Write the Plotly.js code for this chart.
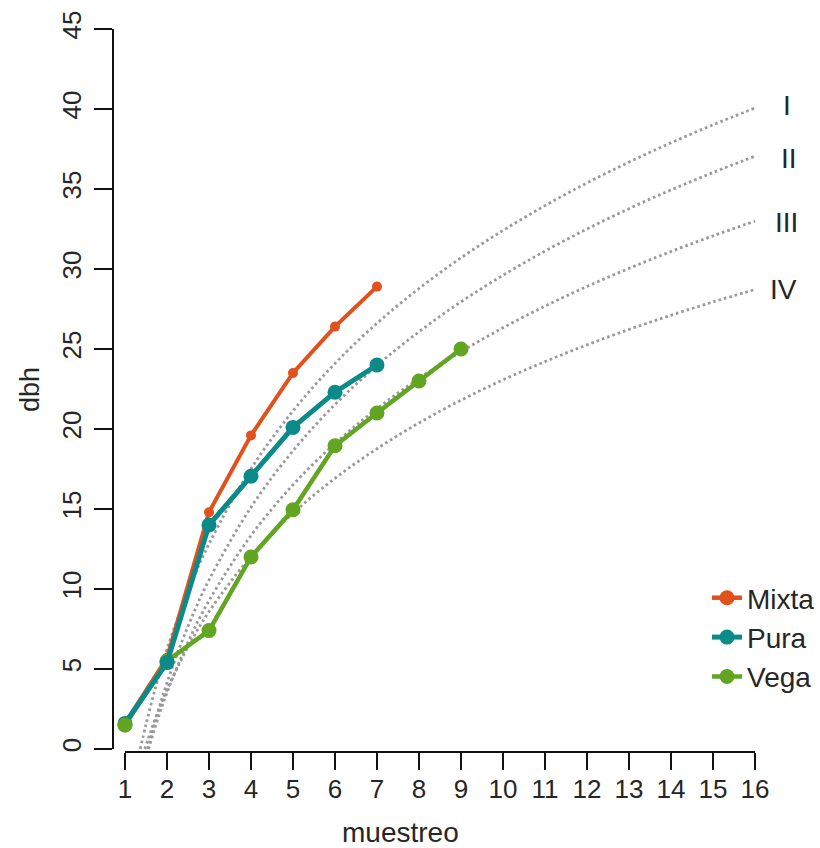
<!DOCTYPE html>
<html>
<head>
<meta charset="utf-8">
<script src="https://cdn.plot.ly/plotly-3.0.1.min.js"></script>
<style>html,body{margin:0;padding:0;background:#fff;}#chart{width:820px;height:848px;}</style>
</head>
<body>
<div id="chart"></div>
<script>
// ---- data ----
var xTicks = [1,2,3,4,5,6,7,8,9,10,11,12,13,14,15,16];
var yTicks = [0,5,10,15,20,25,30,35,40,45];

var mixtaX = [1,2,3,4,5,6,7];
var mixtaY = [1.6,5.7,14.8,19.6,23.5,26.4,28.9];
var puraX  = [1,2,3,4,5,6,7];
var puraY  = [1.6,5.4,14.0,17.05,20.1,22.3,24.0];
var vegaX  = [1,2,3,4,5,6,7,8,9];
var vegaY  = [1.5,5.5,7.4,12.0,14.95,18.95,21.0,23.0,25.0];

// site-index reference curves (dotted)
var curveNames = ["I","II","III","IV"];
var curveLabelY = [40.25,36.9,32.9,28.7];
var curveIx = [1.364,1.5,1.75,2,2.5,3,4,5,6,7,8,9,10,11,12,13,14,15,16];
var curveIy = [0,1.55,4.05,6.23,9.86,12.82,17.51,21.13,24.10,26.61,28.78,30.70,32.41,33.96,35.38,36.68,37.89,39.01,40.06];
var curveIIx = [1.54,1.75,2,2.5,3,4,5,6,7,8,9,10,11,12,13,14,15,16];
var curveIIy = [0,2.02,4.14,7.67,10.56,15.11,18.64,21.53,23.97,26.08,27.95,29.61,31.12,32.50,33.77,34.94,36.03,37.05];
var curveIIIx = [1.56,1.75,2,2.5,3,4,5,6,7,8,9,10,11,12,13,14,15,16];
var curveIIIy = [0,1.63,3.52,6.68,9.27,13.34,16.51,19.09,21.27,23.16,24.83,26.33,27.68,28.91,30.04,31.09,32.07,32.99];
var curveIVx = [1.47,1.75,2,2.5,3,4,5,6,7,8,9,10,11,12,13,14,15,16];
var curveIVy = [0,2.10,3.70,6.39,8.58,12.04,14.73,16.92,18.77,20.38,21.80,23.07,24.21,25.26,26.22,27.11,27.94,28.72];

// ---- styling ----
var FONT = "Liberation Sans, Arial, Helvetica, sans-serif";
var TXT = "#262626";
var cMixta = "#E0511C", cPura = "#0B8A8A", cVega = "#62A523";
var dotCol = "#999999";

var curvesX = [curveIx, curveIIx, curveIIIx, curveIVx];
var curvesY = [curveIy, curveIIy, curveIIIy, curveIVy];

var traces = [];
for (var i = 0; i < 4; i++) {
  traces.push({
    x: curvesX[i], y: curvesY[i], type: "scatter", mode: "lines",
    line: {color: dotCol, width: 2.8, dash: "2.6px,3px", shape: "spline", smoothing: 1},
    showlegend: false, hoverinfo: "skip"
  });
}
traces.push({x: mixtaX, y: mixtaY, name: "Mixta", type: "scatter", mode: "lines+markers",
  line: {color: cMixta, width: 4}, marker: {color: cMixta, size: 10}, showlegend: false});
traces.push({x: vegaX, y: vegaY, name: "Vega", type: "scatter", mode: "lines+markers",
  line: {color: cVega, width: 4.5}, marker: {color: cVega, size: 15}, legendgroup: "c", legendrank: 3});
traces.push({x: puraX, y: puraY, name: "Pura", type: "scatter", mode: "lines+markers",
  line: {color: cPura, width: 5}, marker: {color: cPura, size: 15}, legendgroup: "b", legendrank: 2});
traces.push({x: vegaX.slice(0,1), y: vegaY.slice(0,1), type: "scatter", mode: "markers",
  marker: {color: cVega, size: 15}, showlegend: false, hoverinfo: "skip"});
// legend entry for Mixta (larger legend symbol, as in the reference)
traces.push({x: [null], y: [null], name: "Mixta", type: "scatter", mode: "lines+markers",
  line: {color: cMixta, width: 4.5}, marker: {color: cMixta, size: 15}, legendgroup: "a", legendrank: 1,
  hoverinfo: "skip"});

var PW = 820 - 113; // plot width in px (margin r = 0)
var annotations = [];
var labelX = [16.76, 16.8, 16.76, 16.69];
for (var j = 0; j < 4; j++) {
  annotations.push({x: labelX[j], y: curveLabelY[j], xref: "x", yref: "y", text: curveNames[j], showarrow: false,
    xanchor: "center", yanchor: "middle", font: {family: FONT, size: 28, color: TXT}});
}
annotations.push({x: (400-113)/PW, y: (752-832)/739, xref: "paper", yref: "paper", text: "muestreo",
  showarrow: false, xanchor: "center", yanchor: "middle", font: {family: FONT, size: 28, color: TXT}});
annotations.push({x: (30-113)/PW, y: (752-390)/739, xref: "paper", yref: "paper", text: "dbh",
  textangle: -90, showarrow: false, xanchor: "center", yanchor: "middle", font: {family: FONT, size: 27, color: TXT}});

var layout = {
  width: 820, height: 848,
  margin: {l: 113, r: 0, t: 13, b: 96, pad: 0},
  paper_bgcolor: "#fff", plot_bgcolor: "#fff",
  font: {family: FONT, color: TXT, size: 26},
  xaxis: {range: [1 - 12/42, 1 - 12/42 + PW/42], tickvals: xTicks, ticktext: xTicks.map(String),
    showgrid: false, zeroline: false, showline: false, ticks: "outside", ticklen: 17, tickwidth: 2,
    tickcolor: "#111", ticklabelstandoff: -3, tickfont: {family: FONT, size: 26, color: TXT}},
  yaxis: {range: [-3/16, -3/16 + 739/16], tickvals: yTicks, ticktext: yTicks.map(String),
    showgrid: false, zeroline: false, showline: false, ticks: "outside", ticklen: 18, tickwidth: 2,
    tickcolor: "#111", tickangle: -90, ticklabelstandoff: 3, tickfont: {family: FONT, size: 26, color: TXT}},
  shapes: [
    {type: "line", xref: "paper", yref: "y", x0: 0, x1: 0, y0: 0, y1: 45, line: {color: "#111", width: 2}},
    {type: "line", xref: "x", yref: "paper", x0: 1, x1: 16, y0: 0, y1: 0, line: {color: "#111", width: 2}}
  ],
  annotations: annotations,
  showlegend: true,
  legend: {x: 1, y: (752-573)/739, xanchor: "right", yanchor: "top",
    bgcolor: "rgba(0,0,0,0)", font: {family: FONT, size: 28, color: TXT}, tracegroupgap: 0,
    itemsizing: "trace", traceorder: "normal"}
};

Plotly.newPlot("chart", traces, layout, {displayModeBar: false, staticPlot: true});
</script>
</body>
</html>
